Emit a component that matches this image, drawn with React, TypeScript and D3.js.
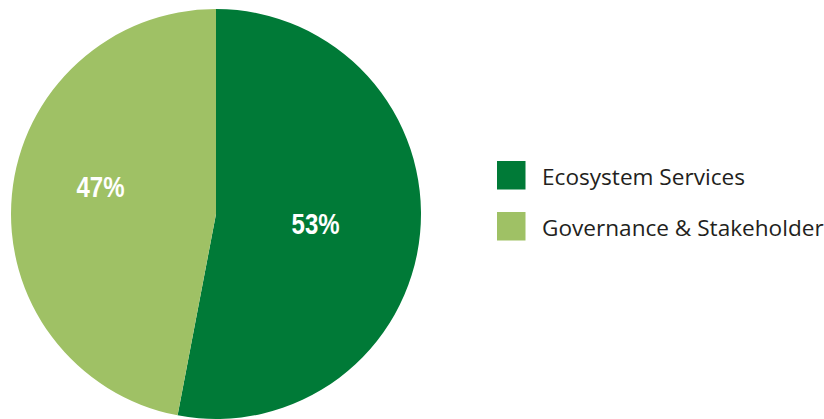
import React from "react";
import * as d3 from "d3";

const categories = ["Ecosystem Services", "Governance & Stakeholder"];
const values = [53, 47];
const colors = ["#007a37", "#9fc165"];

const W = 824;
const H = 419;
const cx = 216;
const cy = 214;
const R = 205;

export default function App() {
  const pie = d3.pie<number>().sort(null).value((d) => d)(values);
  const arc = d3.arc<d3.PieArcDatum<number>>().innerRadius(0).outerRadius(R);
  const labelArcs = [
    d3.arc<d3.PieArcDatum<number>>().innerRadius(100).outerRadius(100),
    d3.arc<d3.PieArcDatum<number>>().innerRadius(116).outerRadius(116),
  ];
  const labelShift = [0, -17];
  const total = d3.sum(values);
  const legendY = d3.scalePoint<string>().domain(categories).range([161, 212]);

  return (
    <svg width={W} height={H} style={{ position: "absolute", left: 0, top: 0, display: "block" }}>
      <g transform={`translate(${cx},${cy})`}>
        {pie.map((p, i) => (
          <path key={i} d={arc(p) || ""} fill={colors[i]} />
        ))}
        {pie.map((p, i) => {
          const [x, y] = labelArcs[i].centroid(p);
          return (
            <text
              key={"l" + i}
              x={x}
              y={y + labelShift[i]}
              dy="0.36em"
              textAnchor="middle"
              fill="#ffffff"
              fontFamily="'Liberation Sans Narrow', 'Liberation Sans', sans-serif"
              fontWeight="bold"
              fontSize={29}
              textLength={48}
              lengthAdjust="spacingAndGlyphs"
            >
              {Math.round((values[i] / total) * 100) + "%"}
            </text>
          );
        })}
      </g>
      {categories.map((c, i) => {
        const y = legendY(c)!;
        return (
          <g key={c}>
            <rect x={497} y={y} width={28.5} height={28.5} fill={colors[i]} />
            <text
              x={542}
              y={y + 23.5}
              fill="#231f20"
              fontFamily="'Open Sans', sans-serif"
              fontSize={22.6}
            >
              {c}
            </text>
          </g>
        );
      })}
    </svg>
  );
}
